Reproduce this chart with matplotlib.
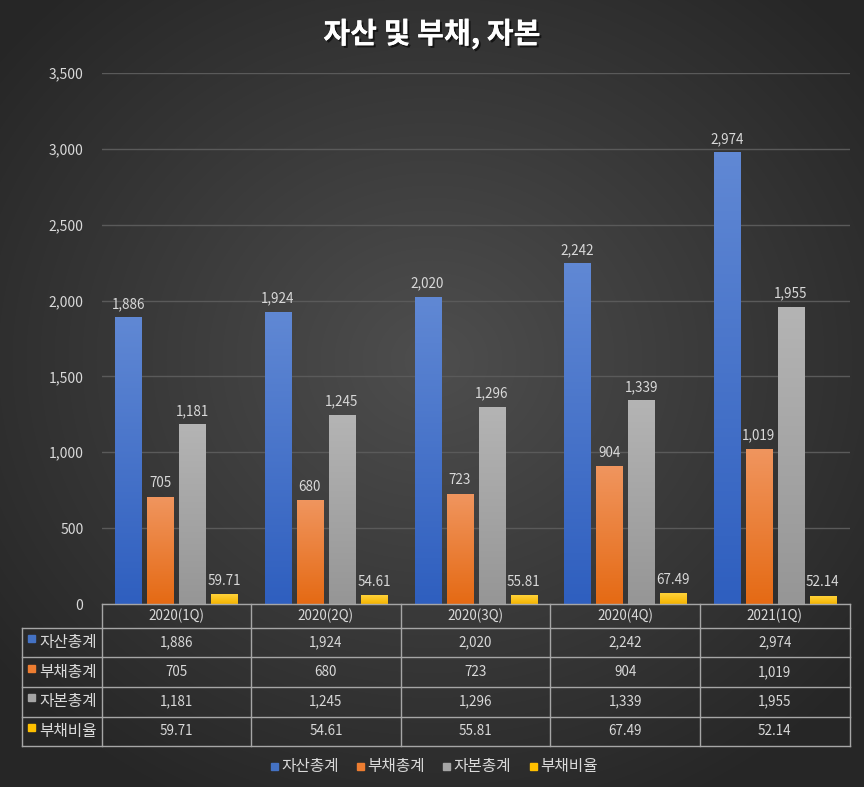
import numpy as np
import matplotlib
matplotlib.use('Agg')
import matplotlib.pyplot as plt
from matplotlib.colors import LinearSegmentedColormap
from matplotlib.patches import Rectangle
import matplotlib.patheffects as pe

plt.rcParams['font.family'] = ['Noto Sans CJK KR', 'DejaVu Sans']

# data
quarters = ['2020(1Q)', '2020(2Q)', '2020(3Q)', '2020(4Q)', '2021(1Q)']
series_names = ['자산총계', '부채총계', '자본총계', '부채비율']
assets = [1886, 1924, 2020, 2242, 2974]
liabilities = [705, 680, 723, 904, 1019]
equity = [1181, 1245, 1296, 1339, 1955]
debt_ratio = [59.71, 54.61, 55.81, 67.49, 52.14]
yticks = [0, 500, 1000, 1500, 2000, 2500, 3000, 3500]

series = [assets, liabilities, equity, debt_ratio]
fmts = ['{:,.0f}', '{:,.0f}', '{:,.0f}', '{:.2f}']
# (top colour, bottom colour) for each series
grads = [('#6088d4', '#2f5fbf'), ('#f0955e', '#e56a14'),
         ('#b4b4b4', '#969696'), ('#ffd23a', '#f5b400')]
solid = ['#4472c4', '#ed7d31', '#a5a5a5', '#ffc000']
txt_col = '#d9d9d9'

W, H = 864, 787
fig = plt.figure(figsize=(W / 100, H / 100), dpi=100)

def fx(x):
    return x / W

def fy(y):
    return 1 - y / H

# radial background
bg = fig.add_axes([0, 0, 1, 1], zorder=-10)
yy, xx = np.mgrid[0:H, 0:W]
r = np.sqrt(((xx - 432) / 560.0) ** 2 + ((yy - 360) / 500.0) ** 2)
r = np.clip(r, 0, 1)
c0, c1 = 0x4e / 255, 0x26 / 255
val = c0 + (c1 - c0) * r
bg.imshow(np.dstack([val, val, val]), extent=[0, W, H, 0], aspect='auto')
bg.set_xlim(0, W)
bg.set_ylim(H, 0)
bg.axis('off')

# plot area
left, right, top, bottom = 101.5, 849.6, 73, 604
ax = fig.add_axes([fx(left), fy(bottom), fx(right) - fx(left), fy(top) - fy(bottom)])
ax.patch.set_alpha(0)
for s in ax.spines.values():
    s.set_visible(False)

x = np.arange(len(quarters))
width = 0.174
step = 0.214
for k, vals in enumerate(series):
    off = (k - 1.5) * step
    cmap = LinearSegmentedColormap.from_list('g%d' % k, [grads[k][1], grads[k][0]])
    for i, v in enumerate(vals):
        x0 = x[i] + off - width / 2
        grad = np.linspace(0, 1, 100).reshape(-1, 1)
        ax.imshow(grad, cmap=cmap, extent=[x0, x0 + width, 0, v],
                  origin='lower', aspect='auto', zorder=3)
        ax.annotate(fmts[k].format(v), (x[i] + off, v), xytext=(0, 5),
                    textcoords='offset points', ha='center', va='bottom',
                    color=txt_col, fontsize=9.7, zorder=4)

ax.set_xlim(-0.5, len(quarters) - 0.5)
ax.set_ylim(0, 3500)
ax.set_yticks(yticks)
ax.set_yticklabels(['{:,}'.format(t) for t in yticks], color=txt_col, fontsize=10)
ax.set_xticks([])
ax.tick_params(axis='y', length=0, pad=13)
ax.grid(axis='y', color='#5a5a5a', linewidth=1)
ax.set_axisbelow(True)

# title
fig.text(0.5, fy(34), '자산 및 부채, 자본', ha='center', va='center',
         fontsize=21, fontweight='bold', color='white',
         path_effects=[pe.withSimplePatchShadow(offset=(1.5, -1.5), shadow_rgbFace='black', alpha=0.6), pe.Normal()])

# data table
line_kw = dict(color='#a6a6a6', linewidth=1, transform=fig.transFigure)
col_edges = np.linspace(left, right, len(quarters) + 1)
row_edges = [604, 627.5, 657.3, 686.8, 716.7, 746]
tab_left = 22.3
fig.add_artist(plt.Line2D([fx(left), fx(right)], [fy(row_edges[0])] * 2, **line_kw))
for ry in row_edges[1:]:
    fig.add_artist(plt.Line2D([fx(tab_left), fx(right)], [fy(ry)] * 2, **line_kw))
for cx in col_edges:
    fig.add_artist(plt.Line2D([fx(cx)] * 2, [fy(row_edges[0]), fy(row_edges[-1])], **line_kw))
fig.add_artist(plt.Line2D([fx(tab_left)] * 2, [fy(row_edges[1]), fy(row_edges[-1])], **line_kw))

for i, q in enumerate(quarters):
    cx = (col_edges[i] + col_edges[i + 1]) / 2
    fig.text(fx(cx), fy((row_edges[0] + row_edges[1]) / 2), q, ha='center', va='center',
             color=txt_col, fontsize=9.7)
for k, vals in enumerate(series):
    cy = (row_edges[k + 1] + row_edges[k + 2]) / 2
    fig.add_artist(Rectangle((fx(28.3), fy(cy - 0.5)), 7 / W, 7 / H, color=solid[k],
                             transform=fig.transFigure))
    fig.text(fx(39.5), fy(cy), series_names[k], ha='left', va='center',
             color=txt_col, fontsize=11.3)
    for i, v in enumerate(vals):
        cx = (col_edges[i] + col_edges[i + 1]) / 2
        fig.text(fx(cx), fy(cy), fmts[k].format(v), ha='center', va='center',
                 color=txt_col, fontsize=9.7)

# legend
leg_x = [270.7, 356.7, 443.3, 530]
for k, name in enumerate(series_names):
    fig.add_artist(Rectangle((fx(leg_x[k]), fy(770)), 7 / W, 7 / H, color=solid[k],
                             transform=fig.transFigure))
    fig.text(fx(leg_x[k] + 10.5), fy(766.5), name, ha='left', va='center',
             color=txt_col, fontsize=11.3)

fig.savefig('out.png', dpi=100)
